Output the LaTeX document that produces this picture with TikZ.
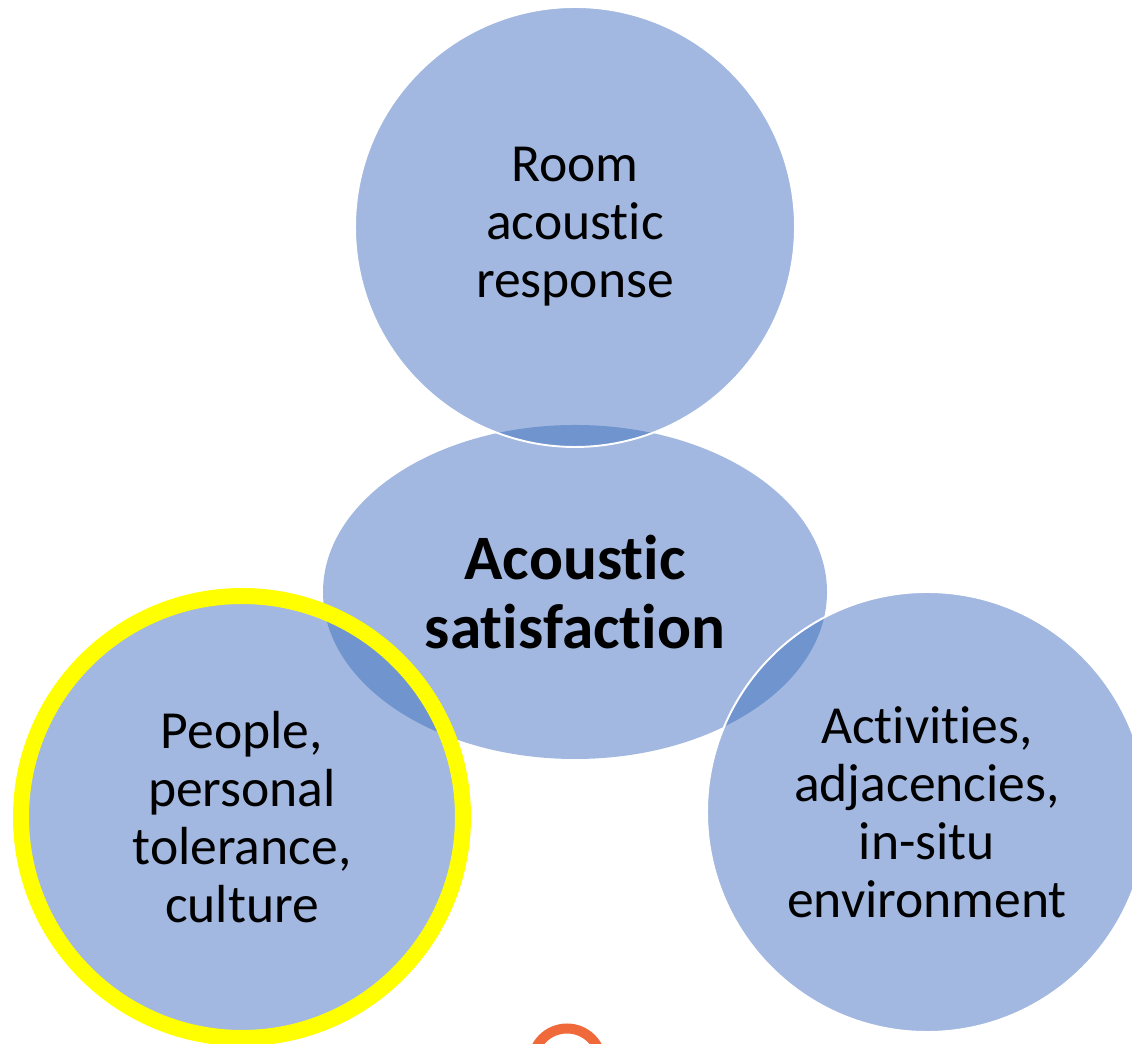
\documentclass[tikz,border=0pt]{standalone}
\usepackage{fontspec}
\setmainfont{Carlito}[Ligatures=NoCommon]
\usetikzlibrary{shapes.geometric}

\definecolor{bubble}{HTML}{A2B8E0}
\definecolor{lensblue}{HTML}{7094CE}
\definecolor{ringyellow}{HTML}{FFFF00}
\definecolor{arcorange}{HTML}{F0693A}

\begin{document}
\begin{tikzpicture}[
  bubble node/.style={circle,fill=bubble,minimum size=8.8cm,inner sep=0pt,
    align=center,font=\fontsize{30.5}{33}\selectfont},
  core node/.style={ellipse,fill=bubble,minimum width=10.08cm,
    minimum height=6.68cm,inner sep=0pt,align=center,
    font=\fontsize{36}{39.5}\selectfont\bfseries}]

  \useasboundingbox (0,0) rectangle (22.64,20.88);
  \clip (0,0) rectangle (22.64,20.88);

  \node[core node] (sat) at (11.5,9.04) {Acoustic\\satisfaction};
  \node[bubble node] (room) at (11.5,16.34) {Room\\acoustic\\response};
  \node[bubble node,minimum size=8.84cm] (people) at (4.84,4.54)
    {People,\\personal\\tolerance,\\culture};
  \node[bubble node] (act) at (18.54,4.64)
    {Activities,\\adjacencies,\\in-situ\\environment};

  % overlaps
  \begin{scope}
    \clip (sat.center) ellipse (5.04cm and 3.34cm);
    \fill[lensblue] (room.center) circle (4.4cm);
    \fill[lensblue] (people.center) circle (4.42cm);
    \fill[lensblue] (act.center) circle (4.4cm);
  \end{scope}

  \draw[white,line width=1.1pt] (room.center) circle (4.4cm);
  \draw[white,line width=1.1pt] (act.center) circle (4.4cm);
  \draw[ringyellow,line width=0.32cm] (people.center) circle (4.42cm);

  \coordinate (dot) at (11.34,-0.38);
  \draw[arcorange,line width=0.2cm] (dot) circle (0.69cm);
\end{tikzpicture}
\end{document}
